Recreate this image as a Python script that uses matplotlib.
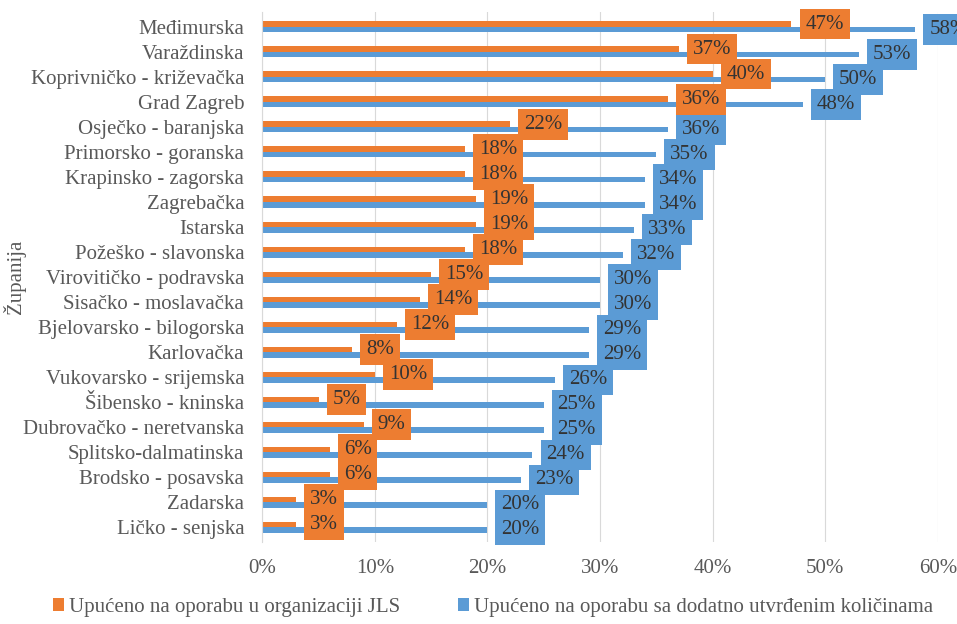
import matplotlib.pyplot as plt
import numpy as np

plt.rcParams['font.family'] = ['Liberation Serif', 'DejaVu Serif']

zupanije = ["Međimurska", "Varaždinska", "Koprivničko - križevačka", "Grad Zagreb",
            "Osječko - baranjska", "Primorsko - goranska", "Krapinsko - zagorska",
            "Zagrebačka", "Istarska", "Požeško - slavonska", "Virovitičko - podravska",
            "Sisačko - moslavačka", "Bjelovarsko - bilogorska", "Karlovačka",
            "Vukovarsko - srijemska", "Šibensko - kninska", "Dubrovačko - neretvanska",
            "Splitsko-dalmatinska", "Brodsko - posavska", "Zadarska", "Ličko - senjska"]
jls = [47, 37, 40, 36, 22, 18, 18, 19, 19, 18, 15, 14, 12, 8, 10, 5, 9, 6, 6, 3, 3]
dodatno = [58, 53, 50, 48, 36, 35, 34, 34, 33, 32, 30, 30, 29, 29, 26, 25, 25, 24, 23, 20, 20]
x_ticks = [0, 10, 20, 30, 40, 50, 60]

orange = '#ED7D31'
blue = '#5B9BD5'
grey = '#595959'
fs = 15

fig = plt.figure(figsize=(9.57, 6.24), dpi=100)
ax = fig.add_axes([0.274, 0.131, 0.706, 0.85])

y = np.arange(len(zupanije))
h = 0.22
ax.barh(y - h / 2, jls, height=h, color=orange, label='Upućeno na oporabu u organizaciji JLS', zorder=2)
ax.barh(y + h / 2, dodatno, height=h, color=blue, label='Upućeno na oporabu sa dodatno utvrđenim količinama', zorder=2)

# oznake vrijednosti u kućicama
for i in range(len(zupanije)):
    ax.annotate(f"{jls[i]}%", (jls[i], y[i] - h / 2), xytext=(10, 0), textcoords='offset points',
                ha='left', va='center', fontsize=fs, color='#333333', zorder=5,
                bbox=dict(boxstyle='square,pad=0.28', fc=orange, ec='none'),
                annotation_clip=False)
    ax.annotate(f"{dodatno[i]}%", (dodatno[i], y[i] + h / 2), xytext=(10, 0), textcoords='offset points',
                ha='left', va='center', fontsize=fs, color='#333333', zorder=4,
                bbox=dict(boxstyle='square,pad=0.28', fc=blue, ec='none'),
                annotation_clip=False)

ax.set_xlim(0, 60)
ax.set_ylim(20.6, -0.6)
ax.set_xticks(x_ticks)
ax.set_xticklabels([f"{t}%" for t in x_ticks])
ax.set_yticks(y)
ax.set_yticklabels(zupanije)
ax.tick_params(axis='both', length=0, labelsize=fs, labelcolor=grey)
ax.tick_params(axis='x', pad=12)
ax.tick_params(axis='y', pad=13)
ax.grid(axis='x', color='#D9D9D9', linewidth=0.8, zorder=0)
for s in ['top', 'right', 'bottom']:
    ax.spines[s].set_visible(False)
ax.spines['left'].set_color('#D9D9D9')
ax.set_ylabel('Županija', fontsize=fs, color=grey)
ax.yaxis.set_label_coords(-0.35, 0.5)

fig.legend(loc='center', bbox_to_anchor=(0.515, 0.027), ncol=2, frameon=False,
           fontsize=fs, labelcolor=grey, handlelength=0.55, handleheight=0.55,
           handletextpad=0.2, columnspacing=2.8)

fig.savefig('out.png', dpi=100)
